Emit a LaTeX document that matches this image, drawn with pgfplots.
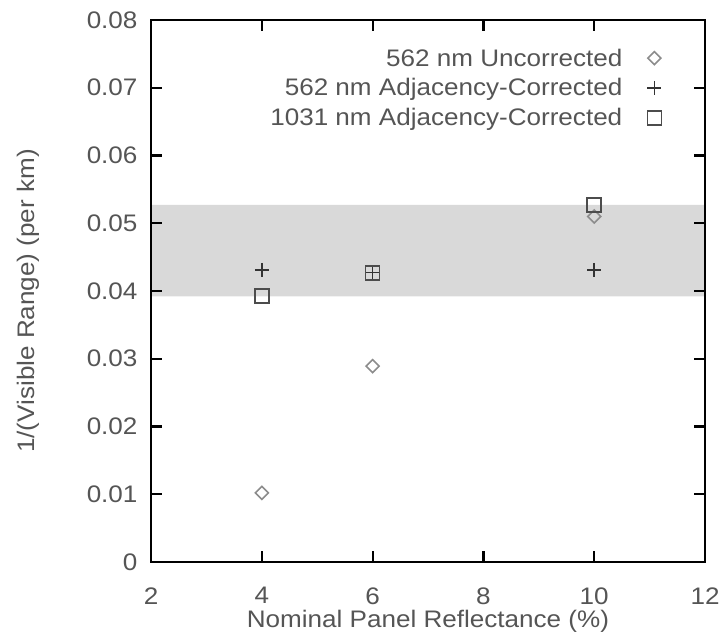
\documentclass[border=0pt]{standalone}
\usepackage{pgfplots}
\pgfplotsset{compat=1.18}
\usepackage{fontspec}
\setmainfont{Liberation Sans}[FakeStretch=1.09]
\definecolor{txt}{HTML}{555555}
\definecolor{band}{HTML}{D9D9D9}
\begin{document}
\begin{tikzpicture}
\begin{axis}[
  set layers,
  clip=false,
  scale only axis,
  width=554bp, height=542bp,
  xmin=2, xmax=12, ymin=0, ymax=0.08,
  xtick={2,4,6,8,10,12},
  xticklabels={2,4,6,8,10,12},
  ytick={0,0.01,0.02,0.03,0.04,0.05,0.06,0.07,0.08},
  yticklabels={0,0.01,0.02,0.03,0.04,0.05,0.06,0.07,0.08},
  scaled y ticks=false,
  major tick length=0pt,
  axis line style={draw=none},
  tick style={draw=none},
  tick label style={font=\fontsize{24}{28}\selectfont, text=txt},
  xticklabel style={yshift=-22bp},
  yticklabel style={xshift=-10bp},
  xlabel={Nominal Panel Reflectance (\%)},
  ylabel={1/(Visible Range) (per km)},
  every axis x label/.style={at={(axis description cs:0.5,0)}, anchor=center, yshift=-59bp, text=txt, font=\fontsize{24}{28}\selectfont},
  every axis y label/.style={at={(axis description cs:0,0.5)}, anchor=center, xshift=-123bp, yshift=-10bp, rotate=90, text=txt, font=\fontsize{24}{28}\selectfont},
  legend plot pos=right,
  legend cell align=right,
  legend style={draw=none, fill=none, at={(0.9215,0.951)}, anchor=north east,
    font=\fontsize{24}{28}\selectfont, text=txt, row sep=7bp, column sep=23bp,
    inner sep=0pt},
]
% shaded range
\addplot[fill=band, draw=none, forget plot, on layer=axis background] coordinates {(2,0.0392) (2,0.0527) (12,0.0527) (12,0.0392) (2,0.0392)};
% frame
\addplot[black, line width=2.2bp, forget plot] coordinates {(2,0) (12,0) (12,0.08) (2,0.08) (2,0)} -- cycle;
% x ticks (bottom and top, inside)
\pgfplotsinvokeforeach{4,6,8,10}{
  \addplot[black, line width=2.2bp, forget plot] coordinates {(#1,0) (#1,0.00162)};
  \addplot[black, line width=2.2bp, forget plot] coordinates {(#1,0.08) (#1,0.07838)};
}
% y ticks (left and right, inside)
\pgfplotsinvokeforeach{0.01,0.02,0.03,0.04,0.05,0.06,0.07}{
  \addplot[black, line width=2.2bp, forget plot] coordinates {(2,#1) (2.2,#1)};
  \addplot[black, line width=2.2bp, forget plot] coordinates {(12,#1) (11.8,#1)};
}
\addplot[only marks, mark=square, mark size=4.6bp, mark options={rotate=45}, color=black!45, line width=1.6bp] coordinates {(4,0.0102) (6,0.0289) (10,0.0510)};
\addlegendentry{562 nm Uncorrected}
\addplot[only marks, mark=+, mark size=7bp, color=black!80, line width=1.5bp] coordinates {(4,0.0431) (6,0.0427) (10,0.0431)};
\addlegendentry{562 nm Adjacency-Corrected}
\addplot[only marks, mark=square, mark size=7bp, color=black!70, line width=1.6bp] coordinates {(4,0.0393) (6,0.0427) (10,0.0527)};
\addlegendentry{1031 nm Adjacency-Corrected}
\end{axis}
\pgfresetboundingbox
\path[use as bounding box] (-151bp,-77bp) rectangle (575bp,562bp);
\end{tikzpicture}
\end{document}
